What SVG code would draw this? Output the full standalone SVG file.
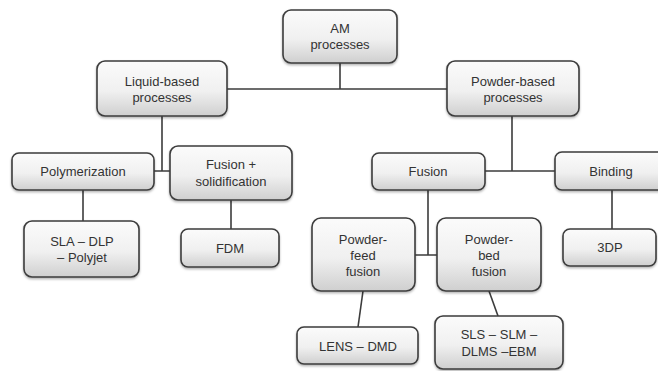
<svg xmlns="http://www.w3.org/2000/svg" width="658" height="371" viewBox="0 0 658 371">
<defs>
<linearGradient id="g" x1="0" y1="0" x2="0" y2="1">
<stop offset="0" stop-color="#fbfbfb"/>
<stop offset="0.55" stop-color="#f0f0f0"/>
<stop offset="1" stop-color="#cfcfcf"/>
</linearGradient>
<filter id="sh" x="-10%" y="-10%" width="120%" height="130%">
<feDropShadow dx="0" dy="1.5" stdDeviation="1.2" flood-color="#000" flood-opacity="0.3"/>
</filter>
</defs>
<style>
.box{fill:url(#g);stroke:#3c3c3c;stroke-width:1.6;filter:url(#sh)}
.t{font-family:"Liberation Sans",Arial,sans-serif;font-size:13px;fill:#333;text-anchor:middle}
.c{fill:none;stroke:#3c3c3c;stroke-width:1.6}
</style>
<rect width="658" height="371" fill="#fff"/>
<g id="connectors">
<path class="c" d="M227,89 H447 M340,63 V89"/>
<path class="c" d="M162,116 V171 M154,171 H170"/>
<path class="c" d="M83,190 V221"/>
<path class="c" d="M231,200 V229"/>
<path class="c" d="M512,116 V171 M485,171 H555"/>
<path class="c" d="M428,190 V255 M415,255 H437"/>
<path class="c" d="M612,190 V229"/>
<path class="c" d="M363,291 L358,327"/>
<path class="c" d="M489,291 L498,316"/>
</g>
<g id="am"><rect class="box" x="283" y="10" width="114" height="53" rx="8"/><text class="t" x="340" y="33">AM</text><text class="t" x="340" y="49">processes</text></g>
<g id="liquid"><rect class="box" x="97" y="61" width="130" height="55" rx="8"/><text class="t" x="162" y="86">Liquid-based</text><text class="t" x="162" y="102">processes</text></g>
<g id="powder"><rect class="box" x="447" y="61" width="132" height="55" rx="8"/><text class="t" x="513" y="86">Powder-based</text><text class="t" x="513" y="102">processes</text></g>
<g id="polymerization"><rect class="box" x="12" y="153" width="142" height="37" rx="7"/><text class="t" x="83" y="176">Polymerization</text></g>
<g id="fusion-solid"><rect class="box" x="170" y="146" width="122" height="54" rx="8"/><text class="t" x="231" y="169">Fusion +</text><text class="t" x="231" y="186">solidification</text></g>
<g id="sla"><rect class="box" x="24" y="221" width="115" height="56" rx="8"/><text class="t" x="82" y="246">SLA – DLP</text><text class="t" x="82" y="262">– Polyjet</text></g>
<g id="fdm"><rect class="box" x="181" y="229" width="98" height="38" rx="7"/><text class="t" x="230" y="253">FDM</text></g>
<g id="fusion"><rect class="box" x="372" y="153" width="113" height="37" rx="7"/><text class="t" x="428" y="176">Fusion</text></g>
<g id="binding"><rect class="box" x="555" y="152" width="111" height="38" rx="7"/><text class="t" x="611" y="176">Binding</text></g>
<g id="powder-feed"><rect class="box" x="312" y="218" width="103" height="73" rx="9"/><text class="t" x="363" y="244">Powder-</text><text class="t" x="363" y="260">feed</text><text class="t" x="363" y="276">fusion</text></g>
<g id="powder-bed"><rect class="box" x="437" y="218" width="104" height="73" rx="9"/><text class="t" x="489" y="244">Powder-</text><text class="t" x="489" y="260">bed</text><text class="t" x="489" y="276">fusion</text></g>
<g id="tdp"><rect class="box" x="563" y="229" width="93" height="37" rx="7"/><text class="t" x="610" y="252">3DP</text></g>
<g id="lens"><rect class="box" x="297" y="327" width="121" height="37" rx="7"/><text class="t" x="358" y="351">LENS – DMD</text></g>
<g id="sls"><rect class="box" x="435" y="316" width="128" height="53" rx="8"/><text class="t" x="499" y="339">SLS – SLM –</text><text class="t" x="499" y="356">DLMS –EBM</text></g>
</svg>
